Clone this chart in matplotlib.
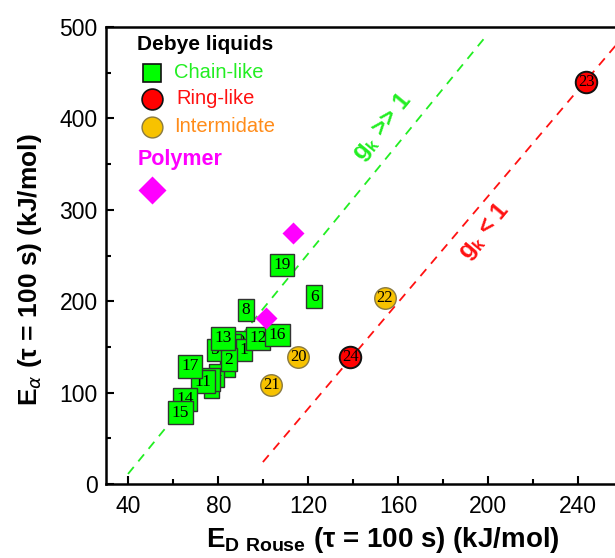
import matplotlib
matplotlib.use("Agg")
import matplotlib.pyplot as plt

plt.rcParams['font.family'] = ['Liberation Sans', 'DejaVu Sans']
plt.rcParams['mathtext.fontset'] = 'custom'
plt.rcParams['mathtext.rm'] = 'Liberation Sans'
plt.rcParams['mathtext.bf'] = 'Liberation Sans:bold'

# chain-like liquids (numbered green boxes), listed in drawing order
chain_ids = [3, 4, 7, 10, 18, 5, 9, 1, 2, 11, 12, 13, 14, 15, 16, 17, 6, 8, 19]
chain_x = [84.0, 79.2, 77.0, 88.5, 75.5, 78.4, 86.6, 91.5, 84.7, 73.0, 97.7, 82.0, 65.1, 63.2, 106.3, 67.3, 122.6, 92.2, 108.4]
chain_y = [130, 119, 107, 155, 114, 146.6, 152, 146.6, 135.7, 112, 159.4, 159.4, 92.7, 78, 163, 129, 204.9, 190.4, 239.6]

# ring-like liquids
ring_ids = [23, 24]
ring_x = [243.6, 138.7]
ring_y = [440, 138.6]

# intermediate liquids
inter_ids = [20, 21, 22]
inter_x = [115.5, 103.6, 154.0]
inter_y = [139.3, 108.3, 203.2]

# polymers
poly_x = [113.2, 101.1]
poly_y = [275, 181.3]

# guide lines (gk > 1 and gk < 1)
green_line_x = [39.8, 198.4]
green_line_y = [11, 488]
red_line_x = [99.8, 262]
red_line_y = [24, 495]

L, R, T, B = 106, 623, 27, 484   # axes box in pixels


def frac(px, py):
    return (px - L) / (R - L), (B - py) / (B - T)


fig = plt.figure(figsize=(6.15, 5.58), dpi=100)
ax = fig.add_axes([L / 615, (558 - B) / 558, (R - L) / 615, (B - T) / 558])

ax.plot(green_line_x, green_line_y, color='#22ee22', ls=(0, (5, 4)), lw=1.3, zorder=1)
ax.plot(red_line_x, red_line_y, color='#ff1111', ls=(0, (5, 4)), lw=1.3, zorder=1)

for i, (n, x, y) in enumerate(zip(chain_ids, chain_x, chain_y)):
    ax.text(x, y, str(n), ha='center', va='center', fontsize=12.5,
            family='Liberation Serif', zorder=3 + i * 0.01,
            bbox=dict(boxstyle='square,pad=0.2', fc='#00ff00', ec='#333333', lw=1))

ax.scatter(ring_x, ring_y, s=240, c='#ff0000', edgecolors='#111111', linewidths=1.4, zorder=4)
for n, x, y in zip(ring_ids, ring_x, ring_y):
    ax.text(x, y, str(n), ha='center', va='center', fontsize=12,
            family='Liberation Serif', zorder=5)

ax.scatter(inter_x, inter_y, s=240, c='#f7c200', edgecolors='#8a7a40', linewidths=1, zorder=4)
for n, x, y in zip(inter_ids, inter_x, inter_y):
    ax.text(x, y, str(n), ha='center', va='center', fontsize=12,
            family='Liberation Serif', zorder=5)

ax.plot(poly_x, poly_y, 'D', color='#ff00ff', ms=11, mec='none', ls='none', zorder=6)

# legend drawn by hand
tr = ax.transAxes
ax.text(*frac(137, 45), 'Debye liquids', transform=tr, fontsize=15, fontweight='bold', va='center')
ax.plot(*frac(152, 73), 's', ms=13, mfc='#00ff00', mec='#111111', mew=1.2, transform=tr)
ax.text(*frac(174, 73), 'Chain-like', transform=tr, fontsize=14.5, color='#22ee22', va='center')
ax.plot(*frac(152, 99), 'o', ms=15, mfc='#ff0000', mec='#111111', mew=1.2, transform=tr)
ax.text(*frac(176, 99), 'Ring-like', transform=tr, fontsize=14.5, color='#ff1111', va='center')
ax.plot(*frac(152, 127), 'o', ms=15, mfc='#f7c200', mec='#8a7a40', mew=1, transform=tr)
ax.text(*frac(174, 127), 'Intermidate', transform=tr, fontsize=14.5, color='#ff8c1a', va='center')
ax.text(*frac(138, 159), 'Polymer', transform=tr, fontsize=15.5, fontweight='bold',
        color='#ff00ff', va='center')
ax.plot(*frac(151.7, 190), 'D', ms=14.5, mfc='#ff00ff', mec='none', transform=tr)

# rotated annotations
ax.text(*frac(382, 127), r'g$_\mathbf{k}$ >> 1', transform=tr,
        rotation=50.5, fontsize=17, fontweight='bold', color='#22ee22',
        ha='center', va='center', rotation_mode='anchor')
ax.text(*frac(484, 231), r'g$_\mathbf{k}$ < 1', transform=tr,
        rotation=50, fontsize=17, fontweight='bold', color='#ff1111',
        ha='center', va='center', rotation_mode='anchor')

ax.set_xlim(30, 260)
ax.set_ylim(0, 500)
ax.set_xticks([40, 80, 120, 160, 200, 240])
ax.set_xticks([60, 100, 140, 180, 220], minor=True)
ax.set_yticks([0, 100, 200, 300, 400, 500])
ax.set_yticks([50, 150, 250, 350, 450], minor=True)
ax.tick_params(which='major', direction='in', length=6, width=1.5, labelsize=16.5)
ax.tick_params(axis='x', which='major', pad=8)
ax.tick_params(axis='y', which='major', pad=6)
ax.tick_params(which='minor', direction='in', length=3.5, width=1.5)
for s in ax.spines.values():
    s.set_linewidth(1.8)

ax.set_xlabel(r'E$_{\mathregular{D\ Rouse}}$ (τ = 100 s) (kJ/mol)', fontsize=20, fontweight='bold')
ax.set_ylabel(r'E$_{\alpha}$ (τ = 100 s) (kJ/mol)', fontsize=19, fontweight='bold')
ax.xaxis.set_label_coords(0.535, -0.09)
ax.yaxis.set_label_coords(-0.12, 0.47)

fig.savefig('out.png', dpi=100)
